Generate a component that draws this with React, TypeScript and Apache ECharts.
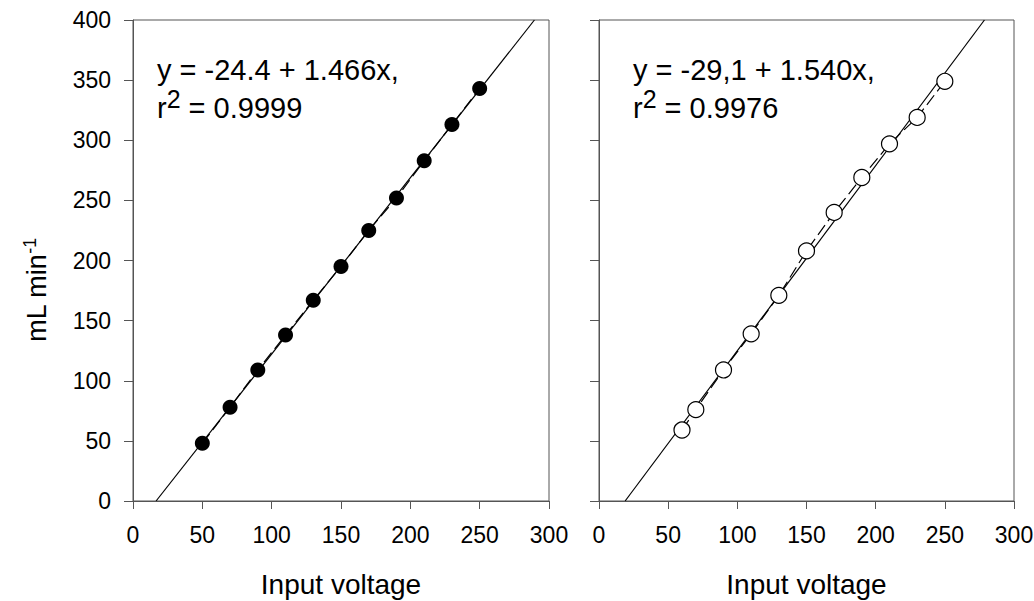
import React, { useEffect, useRef } from "react";
import * as echarts from "echarts";

const xTicks = [0, 50, 100, 150, 200, 250, 300];
const yTicks = [0, 50, 100, 150, 200, 250, 300, 350, 400];

const xLeft = [50, 70, 90, 110, 130, 150, 170, 190, 210, 230, 250];
const yLeft = [48, 78, 109, 138, 167, 195, 225, 252, 283, 313, 343];
const fitLeft = { a: -24.4, b: 1.466 };
const eqLeft = "y = -24.4 + 1.466x,";
const r2Left = "0.9999";

const xRight = [60, 70, 90, 110, 130, 150, 170, 190, 210, 230, 250];
const yRight = [59, 76, 109, 139, 171, 208, 240, 269, 297, 319, 349];
const fitRight = { a: -29.1, b: 1.54 };
const eqRight = "y = -29,1 + 1.540x,";
const r2Right = "0.9976";

const xTitle = "Input voltage";
const yTitleMain = "mL min";
const yTitleSup = "-1";

const FONT = "'Liberation Sans', Arial, Helvetica, sans-serif";
const AX = "#555";

function fitLine(f: { a: number; b: number }) {
  const yMin = yTicks[0];
  const yMax = yTicks[yTicks.length - 1];
  return [
    [(yMin - f.a) / f.b, yMin],
    [(yMax - f.a) / f.b, yMax],
  ];
}

export default function App() {
  const ref = useRef<HTMLDivElement>(null);
  useEffect(() => {
    if (!ref.current) return;
    const chart = echarts.init(ref.current, null, { renderer: "svg" });
    const grids = [
      { left: 133, top: 20, width: 416, height: 481 },
      { left: 599, top: 20, width: 415, height: 481 },
    ];
    const xAxisBase = (i: number) => ({
      type: "value",
      gridIndex: i,
      min: xTicks[0],
      max: xTicks[xTicks.length - 1],
      interval: 50,
      axisLine: { show: true, lineStyle: { color: AX, width: 1 } },
      axisTick: { show: true, inside: false, length: 8, lineStyle: { color: AX } },
      axisLabel: { show: true, color: "#000", fontSize: 23, fontFamily: FONT, margin: 22 },
      splitLine: { show: false },
      name: xTitle,
      nameLocation: "middle",
      nameGap: 68,
      nameTextStyle: { color: "#000", fontSize: 28, fontFamily: FONT, lineHeight: 30 },
    });
    const yAxisBase = (i: number) => ({
      type: "value",
      gridIndex: i,
      min: yTicks[0],
      max: yTicks[yTicks.length - 1],
      interval: 50,
      axisLine: { show: true, lineStyle: { color: AX, width: 1 } },
      axisTick: { show: true, inside: false, length: 9, lineStyle: { color: AX } },
      axisLabel: { show: i === 0, color: "#000", fontSize: 23, fontFamily: FONT, margin: 22 },
      splitLine: { show: false },
    });
    const eqText = (x: number, eq: string, r2: string) => [
      {
        type: "text",
        x,
        y: 55,
        style: { text: eq, fontSize: 29, fontFamily: FONT, fill: "#000" },
        z: 100,
      },
      {
        type: "text",
        x,
        y: 90,
        style: {
          text: `{m|r}{s|2}{m| = ${r2}}`,
          fill: "#000",
          rich: {
            m: { fontSize: 29, fontFamily: FONT, fill: "#000", lineHeight: 36 },
            s: { fontSize: 25, fontFamily: FONT, fill: "#000", padding: [0, 0, 18, 0], lineHeight: 36 },
          },
        },
        z: 100,
      },
    ];
    chart.setOption({
      animation: false,
      backgroundColor: "#fff",
      grid: grids.map((g) => ({
        ...g,
        outerBoundsMode: "none",
        containLabel: false,
        show: true,
        borderColor: AX,
        borderWidth: 1,
        backgroundColor: "transparent",
      })),
      xAxis: [xAxisBase(0), xAxisBase(1)],
      yAxis: [yAxisBase(0), yAxisBase(1)],
      series: [
        {
          type: "line",
          xAxisIndex: 0,
          yAxisIndex: 0,
          data: fitLine(fitLeft),
          symbol: "none",
          lineStyle: { color: "#000", width: 1.2 },
          z: 2,
        },
        {
          type: "line",
          xAxisIndex: 0,
          yAxisIndex: 0,
          data: xLeft.map((x, i) => [x, yLeft[i]]),
          symbol: "none",
          lineStyle: { color: "#000", width: 1.2, type: [12, 5] },
          z: 2,
        },
        {
          type: "scatter",
          xAxisIndex: 0,
          yAxisIndex: 0,
          data: xLeft.map((x, i) => [x, yLeft[i]]),
          symbol: "circle",
          symbolSize: 15,
          itemStyle: { color: "#000", opacity: 1 },
          z: 5,
        },
        {
          type: "line",
          xAxisIndex: 1,
          yAxisIndex: 1,
          data: fitLine(fitRight),
          symbol: "none",
          lineStyle: { color: "#000", width: 1.2 },
          z: 2,
        },
        {
          type: "line",
          xAxisIndex: 1,
          yAxisIndex: 1,
          data: xRight.map((x, i) => [x, yRight[i]]),
          symbol: "none",
          lineStyle: { color: "#000", width: 1.2, type: [12, 5] },
          z: 2,
        },
        {
          type: "scatter",
          xAxisIndex: 1,
          yAxisIndex: 1,
          data: xRight.map((x, i) => [x, yRight[i]]),
          symbol: "circle",
          symbolSize: 16,
          itemStyle: { color: "#fff", borderColor: "#000", borderWidth: 1.2, opacity: 1 },
          z: 5,
        },
      ],
      graphic: [
        ...eqText(157, eqLeft, r2Left),
        ...eqText(633, eqRight, r2Right),
        {
          type: "text",
          x: 37,
          y: 290,
          rotation: Math.PI / 2,
          style: {
            text: `{m|${yTitleMain}}{s|${yTitleSup}}`,
            align: "center",
            verticalAlign: "middle",
            rich: {
              m: { fontSize: 27, fontFamily: FONT, fill: "#000", lineHeight: 32 },
              s: { fontSize: 18, fontFamily: FONT, fill: "#000", padding: [0, 0, 14, 0], lineHeight: 32 },
            },
          },
        },
      ],
    });
    return () => chart.dispose();
  }, []);
  return (
    <div
      ref={ref}
      style={{ position: "fixed", left: 0, top: 0, width: 1034, height: 601, background: "#fff" }}
    />
  );
}
